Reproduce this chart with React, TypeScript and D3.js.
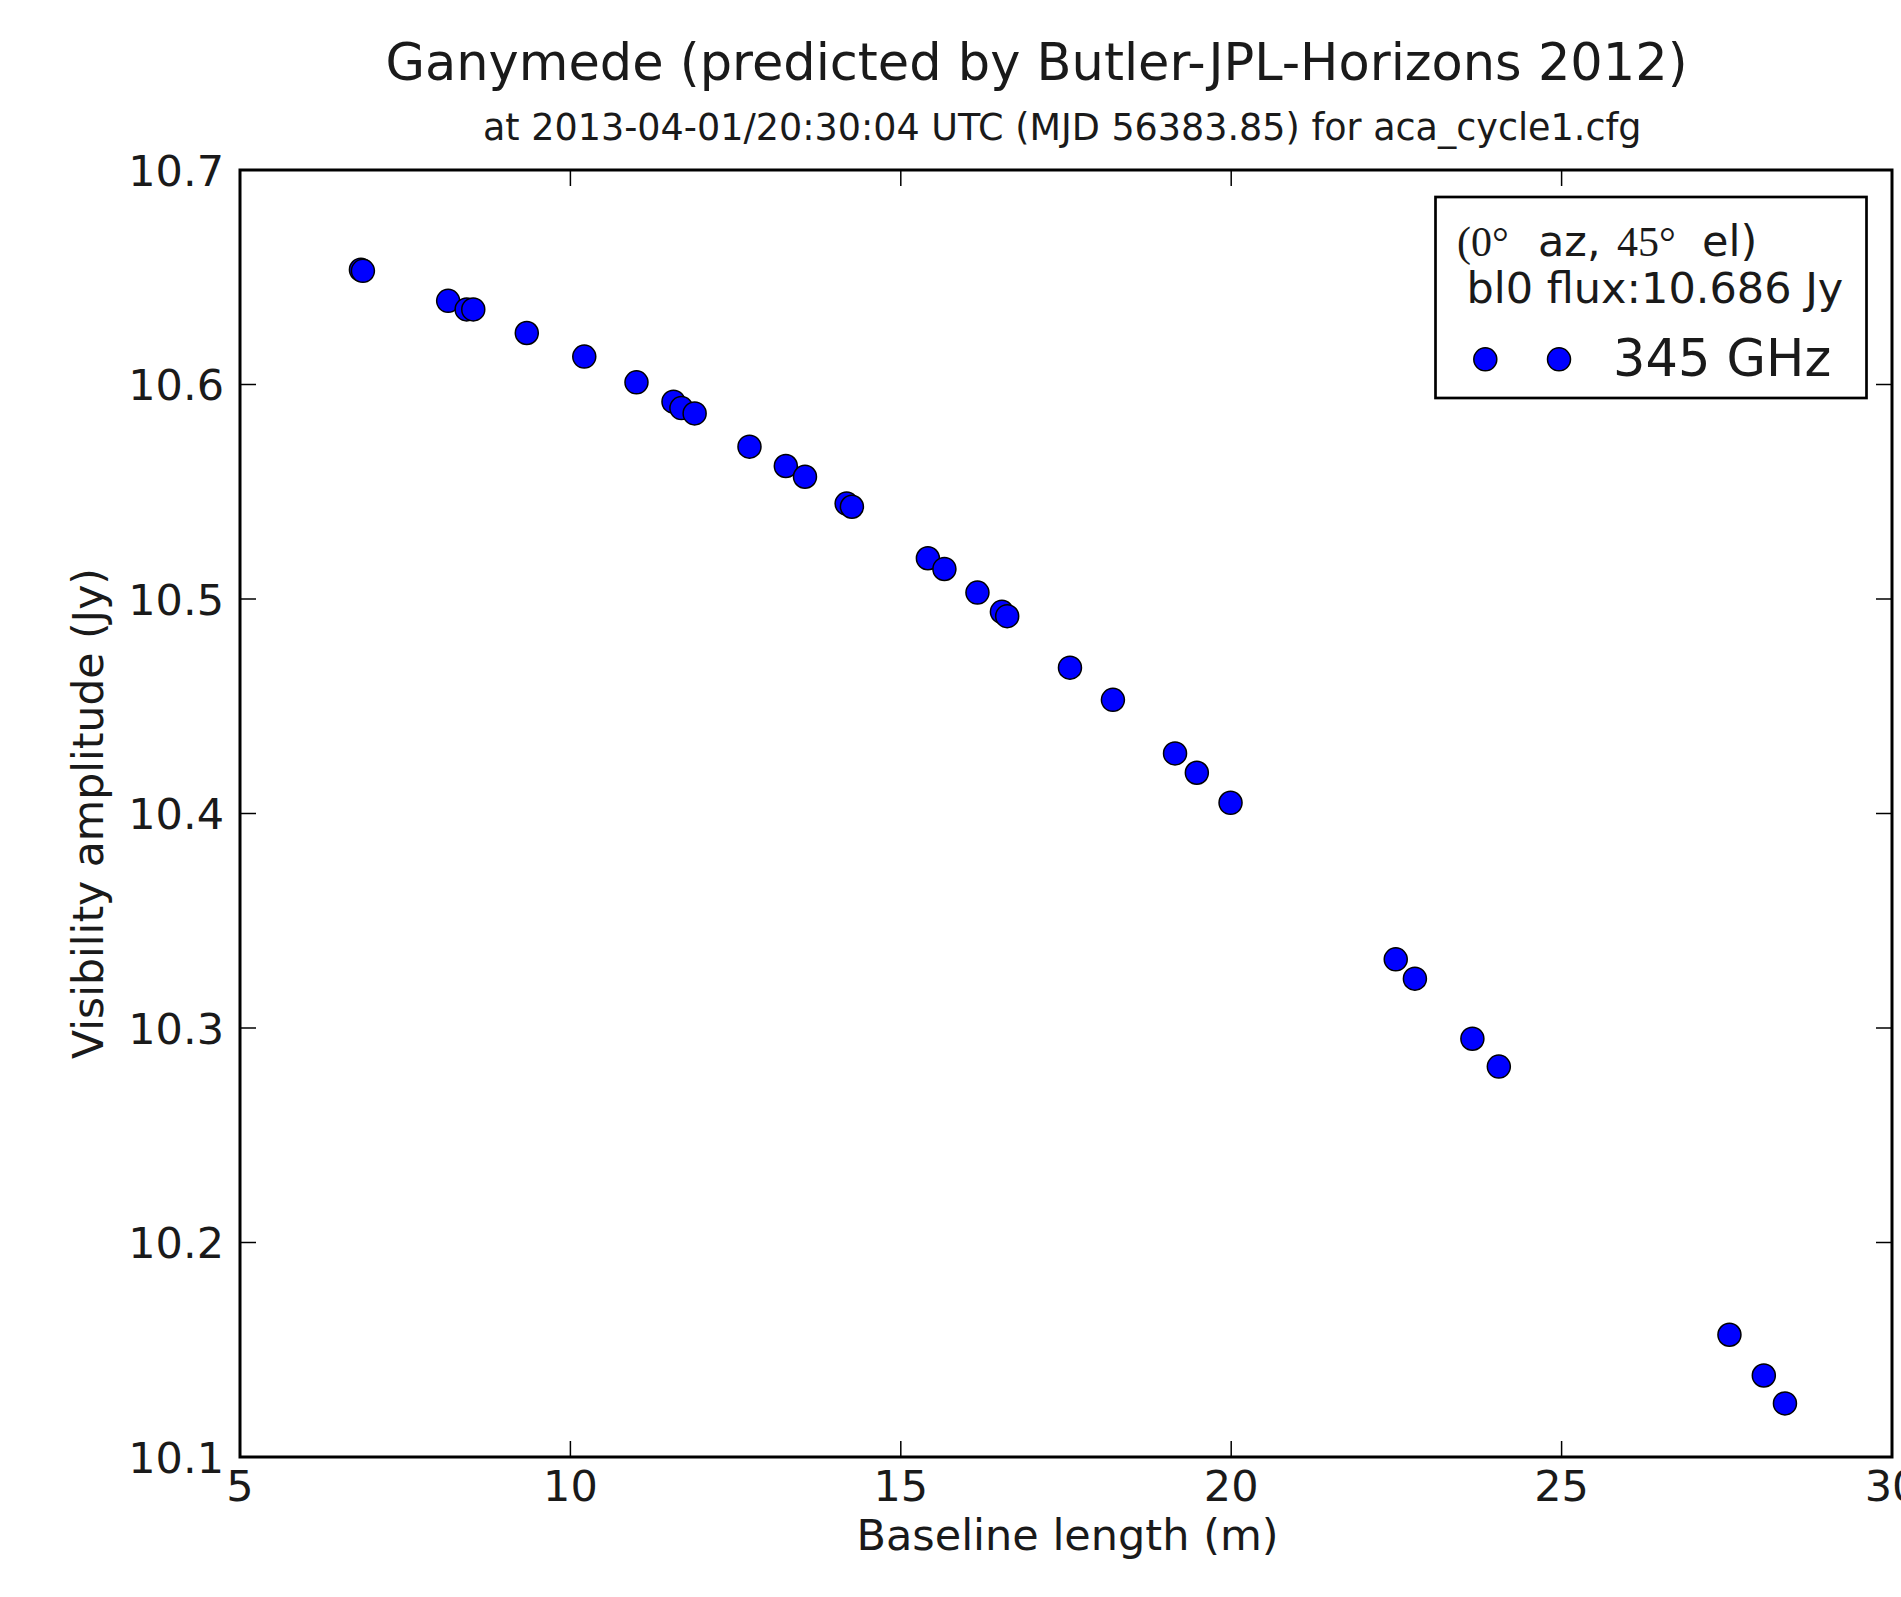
import React from "react";
import * as d3 from "d3";

const baselineLength = [
  6.83, 6.86, 8.15, 8.43, 8.53, 9.34, 10.21, 11.0, 11.56, 11.68, 11.88, 12.71,
  13.26, 13.55, 14.18, 14.26, 15.41, 15.66, 16.16, 16.53, 16.61, 17.56, 18.21,
  19.15, 19.48, 19.99, 22.49, 22.78, 23.65, 24.05, 27.54, 28.06, 28.38,
];
const visAmplitude = [
  10.6535, 10.653, 10.639, 10.635, 10.635, 10.624, 10.613, 10.601, 10.592,
  10.589, 10.5865, 10.571, 10.562, 10.557, 10.5445, 10.543, 10.519, 10.514,
  10.503, 10.494, 10.492, 10.468, 10.453, 10.428, 10.419, 10.405, 10.332,
  10.323, 10.295, 10.282, 10.157, 10.138, 10.125,
];
const xTicks = [5, 10, 15, 20, 25, 30];
const yTicks = [10.1, 10.2, 10.3, 10.4, 10.5, 10.6, 10.7];
const xDomain = [5, 30];
const yDomain = [10.1, 10.7];

const titleText = "Ganymede (predicted by Butler-JPL-Horizons 2012)";
const subtitleText = "at 2013-04-01/20:30:04 UTC (MJD 56383.85) for aca_cycle1.cfg";
const xLabel = "Baseline length (m)";
const yLabel = "Visibility amplitude (Jy)";
const legendFlux = "bl0 flux:10.686 Jy";
const legendSeries = "345 GHz";

const W = 1901;
const H = 1597;
const left = 240;
const right = 1892;
const top = 170;
const bottom = 1457;
const sans = "'DejaVu Sans', sans-serif";
const serif = "'Liberation Serif', 'DejaVu Serif', serif";

export default function App() {
  const x = d3.scaleLinear().domain(xDomain).range([left, right]);
  const y = d3.scaleLinear().domain(yDomain).range([bottom, top]);
  const fmtY = d3.format(".1f");
  const tickLen = 16;
  const data = baselineLength.map((b, i) => ({ b, a: visAmplitude[i] }));

  return (
    <svg
      width={W}
      height={H}
      viewBox={`0 0 ${W} ${H}`}
      style={{ position: "absolute", left: 0, top: 0, background: "#fff", overflow: "hidden" }}
    >
      <rect x={0} y={0} width={W} height={H} fill="#fff" />
      {/* titles */}
      <text x={385.5} y={80} fontFamily={sans} fontSize={51} fill="#1a1a1a">
        {titleText}
      </text>
      <text x={483} y={140} fontFamily={sans} fontSize={36.5} fill="#1a1a1a">
        {subtitleText}
      </text>

      {/* ticks */}
      {xTicks.map((t) => (
        <g key={"xt" + t}>
          <line x1={x(t)} x2={x(t)} y1={bottom} y2={bottom - tickLen} stroke="#000" strokeWidth={1.5} />
          <line x1={x(t)} x2={x(t)} y1={top} y2={top + tickLen} stroke="#000" strokeWidth={1.5} />
          <text x={x(t)} y={bottom + 44} textAnchor="middle" fontFamily={sans} fontSize={43} fill="#1a1a1a">
            {t}
          </text>
        </g>
      ))}
      {yTicks.map((t) => (
        <g key={"yt" + t}>
          <line x1={left} x2={left + tickLen} y1={y(t)} y2={y(t)} stroke="#000" strokeWidth={1.5} />
          <line x1={right} x2={right - tickLen} y1={y(t)} y2={y(t)} stroke="#000" strokeWidth={1.5} />
          <text x={224} y={y(t) + 15.5} textAnchor="end" fontFamily={sans} fontSize={43} fill="#1a1a1a">
            {fmtY(t)}
          </text>
        </g>
      ))}

      {/* axis labels */}
      <text x={1067.5} y={1550} textAnchor="middle" fontFamily={sans} fontSize={43} fill="#1a1a1a">
        {xLabel}
      </text>
      <text
        transform={`translate(103,${(top + bottom) / 2}) rotate(-90)`}
        textAnchor="middle"
        fontFamily={sans}
        fontSize={42.5}
        fill="#1a1a1a"
      >
        {yLabel}
      </text>

      {/* data */}
      {data.map((d, i) => (
        <circle key={i} cx={x(d.b)} cy={y(d.a)} r={11.5} fill="#0000ff" stroke="#000" strokeWidth={1.5} />
      ))}

      {/* frame */}
      <rect x={left} y={top} width={right - left} height={bottom - top} fill="none" stroke="#000" strokeWidth={3} />

      {/* legend */}
      <rect x={1435.5} y={197} width={431} height={201} fill="#fff" stroke="#000" strokeWidth={2.7} />
      <text y={256} fontSize={43} fill="#1a1a1a">
        <tspan x={1457} fontFamily={serif} fontSize={42}>(0°</tspan>
        <tspan x={1538} fontFamily={sans}>az,</tspan>
        <tspan x={1617} fontFamily={serif} fontSize={42}>45°</tspan>
        <tspan x={1702} fontFamily={sans}>el)</tspan>
      </text>
      <text x={1466.5} y={303} fontFamily={sans} fontSize={43} fill="#1a1a1a">
        {legendFlux}
      </text>
      <circle cx={1485.3} cy={359.3} r={11.5} fill="#0000ff" stroke="#000" strokeWidth={1.5} />
      <circle cx={1559} cy={359.3} r={11.5} fill="#0000ff" stroke="#000" strokeWidth={1.5} />
      <text x={1613} y={376} fontFamily={sans} fontSize={51} fill="#1a1a1a">
        {legendSeries}
      </text>
    </svg>
  );
}
